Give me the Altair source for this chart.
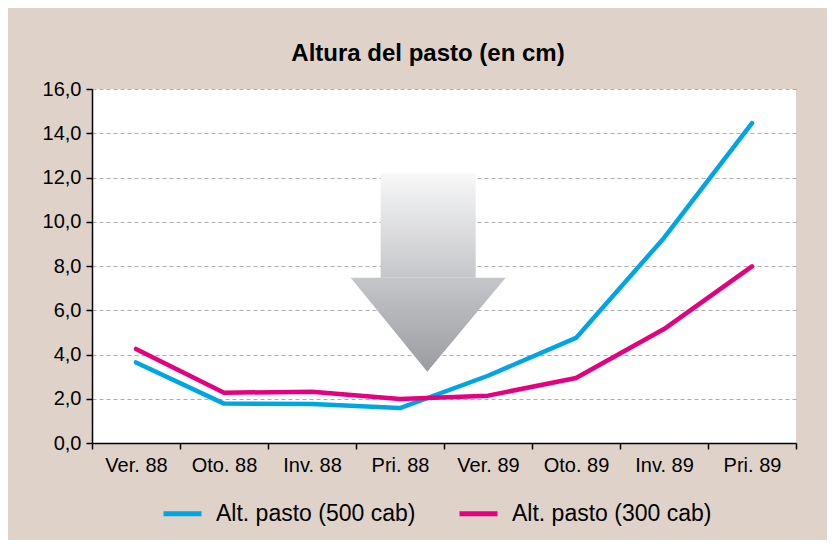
import altair as alt
import pandas as pd

# ---- data ----
categories = ["Ver. 88", "Oto. 88", "Inv. 88", "Pri. 88", "Ver. 89", "Oto. 89", "Inv. 89", "Pri. 89"]
alt500 = [3.64, 1.78, 1.76, 1.58, 3.04, 4.75, 9.27, 14.46]
alt300 = [4.25, 2.27, 2.32, 1.99, 2.14, 2.94, 5.15, 7.98]
series_names = ["Alt. pasto (500 cab)", "Alt. pasto (300 cab)"]
series_colors = ["#00a6e4", "#e4007f"]
y_ticks = [0, 2, 4, 6, 8, 10, 12, 14, 16]

# decorative arrow (in category-band units on x, cm on y)
arrow_shaft_x = [3.28, 4.36]
arrow_shaft_y = [12.2, 7.47]
arrow_head_x = [2.94, 3.81, 4.70]
arrow_head_y = [7.47, 3.22, 7.47]
arrow_head_top = 7.47

rows = []
for name, vals in zip(series_names, [alt500, alt300]):
    for c, v in zip(categories, vals):
        rows.append({"periodo": c, "altura": v, "serie": name})
df = pd.DataFrame(rows)

FONT = "Liberation Sans"
W, H = 704, 354
BG = "#dfd3c9"

y_scale = alt.Scale(domain=[0, 16], nice=False, zero=True)
ax_scale = alt.Scale(domain=[0, 8], nice=False, zero=False)
y_axis = alt.Axis(title=None, values=y_ticks,
                  labelExpr="replace(format(datum.value, '.1f'), '.', ',')",
                  labelFont=FONT, labelFontSize=20, labelColor="black",
                  labelPadding=5, tickColor="black", tickSize=6, tickWidth=1.5,
                  domainColor="black", domainWidth=1.5,
                  grid=True, gridColor="#aeaeae", gridDash=[4, 3], gridWidth=1)

shaft_df = pd.DataFrame({"x": [arrow_shaft_x[0]], "x2": [arrow_shaft_x[1]],
                         "y": [arrow_shaft_y[0]], "y2": [arrow_shaft_y[1]]})
head_df = pd.DataFrame({"x": arrow_head_x, "y": arrow_head_y,
                        "y2": [arrow_head_top] * len(arrow_head_x)})

shaft_grad = alt.Gradient(
    gradient="linear", x1=0, x2=0, y1=0, y2=1,
    stops=[alt.GradientStop(color="#f8f8f9", offset=0),
           alt.GradientStop(color="#c5c6c9", offset=1)])
head_grad = alt.Gradient(
    gradient="linear", x1=0, x2=0, y1=0, y2=1,
    stops=[alt.GradientStop(color="#c5c6c9", offset=0),
           alt.GradientStop(color="#9b9ca0", offset=1)])

shaft = alt.Chart(shaft_df).mark_rect(color=shaft_grad).encode(
    x=alt.X("x:Q", scale=ax_scale, axis=None),
    x2="x2:Q",
    y=alt.Y("y:Q", scale=y_scale, axis=y_axis),
    y2="y2:Q",
)
head = alt.Chart(head_df).mark_area(color=head_grad, interpolate="linear").encode(
    x=alt.X("x:Q", scale=ax_scale, axis=None),
    y=alt.Y("y:Q", scale=y_scale, axis=y_axis),
    y2="y2:Q",
)

lines = alt.Chart(df).mark_line(strokeWidth=4.5, strokeCap="round", strokeJoin="round").encode(
    x=alt.X("periodo:N", sort=categories, bandPosition=0.5,
            scale=alt.Scale(type="band", paddingInner=0, paddingOuter=0),
            axis=alt.Axis(title=None, tickBand="extent", labelAngle=0,
                          labelFont=FONT, labelFontSize=20, labelColor="black",
                          labelPadding=6, tickColor="black", tickSize=6, tickWidth=1.5,
                          domainColor="black", domainWidth=1.5, grid=False)),
    y=alt.Y("altura:Q", scale=y_scale, axis=y_axis),
    color=alt.Color("serie:N",
                    scale=alt.Scale(domain=series_names, range=series_colors),
                    legend=alt.Legend(title=None, orient="none", legendX=69, legendY=403,
                                      direction="horizontal", symbolType="stroke",
                                      symbolSize=1444, symbolStrokeWidth=5,
                                      labelFont=FONT, labelFontSize=23, labelColor="black",
                                      labelOffset=12, columnPadding=33, labelLimit=400)),
    detail="serie:N",
)

chart = alt.layer(shaft, head, lines).resolve_scale(x="independent").properties(
    width=W, height=H,
    autosize=alt.AutoSizeParams(type="none"),
    padding={"left": 84, "top": 81, "right": 31, "bottom": 97},
    background=BG,
    title=alt.TitleParams("Altura del pasto (en cm)", font=FONT,
                          fontSize=24, fontWeight="bold", color="black",
                          anchor="middle", dx=-16, dy=6, offset=0, baseline="alphabetic"),
).configure_view(stroke=None, fill="white")

chart.save("out.html", embed_options={"renderer": "svg", "actions": False})
